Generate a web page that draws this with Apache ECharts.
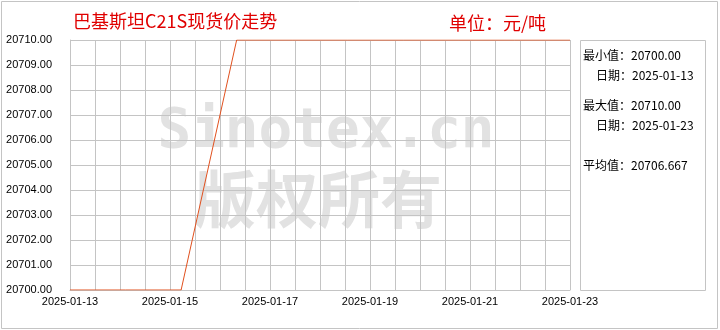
<!DOCTYPE html>
<html><head><meta charset="utf-8">
<script src="https://cdn.jsdelivr.net/npm/echarts@6/dist/echarts.min.js"></script>
<style>html,body{margin:0;padding:0;background:#fff}#c{width:720px;height:330px}</style>
</head><body><div id="c"></div>
<script>
var dates = ['2025-01-13','2025-01-14','2025-01-15','2025-01-16','2025-01-17','2025-01-19','2025-01-20','2025-01-21','2025-01-22','2025-01-23'];
var prices = [20700,20700,20700,20710,20710,20710,20710,20710,20710,20710];
var xTickLabels = ['2025-01-13','2025-01-15','2025-01-17','2025-01-19','2025-01-21','2025-01-23'];
var titleText = '巴基斯坦C21S现货价走势';
var unitText = '单位：元/吨';
var statLines = ['最小值：20700.00','  日期：2025-01-13','','最大值：20710.00','  日期：2025-01-23','','平均值：20706.667'];

var chart = echarts.init(document.getElementById('c'));
var gray = '#c4c4c4';
var statGraphics = [];
var statY = [56, 76, 0, 106, 126, 0, 166];
statLines.forEach(function(t, i){
  if (!t) return;
  var indent = t.indexOf('  ') === 0;
  statGraphics.push({type:'text', left: indent ? 596 : 583, top: statY[i]-7, z:5,
    style:{text: t.trim(), fill:'#000', font:'12px "Noto Sans CJK SC", sans-serif'}});
});
chart.setOption({
  animation:false,
  grid:{left:70, right:150, top:40, bottom:40, containLabel:false},
  xAxis:[
    {type:'category', data:dates, boundaryGap:false, show:false},
    {type:'value', min:0, max:20, interval:1, position:'bottom',
     axisLine:{show:true, lineStyle:{color:gray}}, axisTick:{show:false},
     splitLine:{show:true, lineStyle:{color:gray, width:1}},
     axisLabel:{color:'#000', fontSize:11, fontFamily:'Liberation Sans, sans-serif', margin:6,
       formatter:function(v){ return v % 4 === 0 ? xTickLabels[v/4] : ''; }}}
  ],
  yAxis:{type:'value', min:20700, max:20710, interval:1,
    axisLine:{show:true, lineStyle:{color:gray}}, axisTick:{show:false},
    splitLine:{show:true, lineStyle:{color:gray, width:1}},
    axisLabel:{color:'#000', fontSize:11, fontFamily:'Liberation Sans, sans-serif', margin:18,
      formatter:function(v){ return v.toFixed(2); }}},
  graphic:[
    {type:'rect', z:-20, shape:{x:1.5, y:1.5, width:716, height:327}, style:{fill:'#fff', stroke:gray, lineWidth:1}},
    {type:'rect', z:1, shape:{x:580.5, y:40.5, width:125, height:250}, style:{fill:'#fff', stroke:gray, lineWidth:1}},
    {type:'text', z:-10, x:326, y:132, style:{text:'Sinotex.cn', fill:'#e2e2e2', font:'bold 56px "DejaVu Sans Mono", monospace', textAlign:'center', textVerticalAlign:'middle'}},
    {type:'text', z:-10, x:318, y:199, style:{text:'版权所有', fill:'#e2e2e2', font:'bold 62px "Noto Sans CJK SC", sans-serif', textAlign:'center', textVerticalAlign:'middle'}},
    {type:'text', z:5, left:73, top:12, style:{text:titleText, fill:'#e00000', font:'18px "Noto Sans CJK SC", sans-serif'}},
    {type:'text', z:5, left:449, top:14, style:{text:unitText, fill:'#e00000', font:'18px "Noto Sans CJK SC", sans-serif'}}
  ].concat(statGraphics),
  series:[{type:'line', xAxisIndex:0, data:prices, symbol:'none', z:3,
    lineStyle:{color:'#e0501e', width:1}}]
});
</script></body></html>
